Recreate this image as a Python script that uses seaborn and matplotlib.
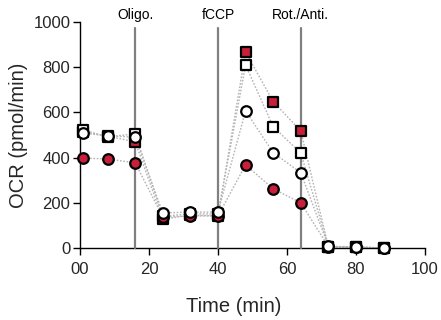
import matplotlib
matplotlib.use("Agg")
import matplotlib.pyplot as plt
import seaborn as sns
import pandas as pd

time = [1, 8, 16, 24, 32, 40, 48, 56, 64, 72, 80, 88]
red_sq = [515, 495, 470, 128, 145, 142, 867, 648, 518, 5, 4, 0]
white_sq = [522, 492, 505, 140, 152, 150, 810, 537, 420, 6, 4, 0]
red_ci = [398, 394, 377, 137, 142, 142, 368, 262, 200, 6, 4, 0]
white_ci = [509, 496, 491, 155, 159, 159, 607, 422, 333, 8, 5, 0]

injections = [16, 40, 64]
inj_labels = ["Oligo.", "fCCP", "Rot./Anti."]
xticks = [0, 20, 40, 60, 80, 100]
xtick_labels = ["00", "20", "40", "60", "80", "100"]
yticks = [0, 200, 400, 600, 800, 1000]

RED = "#C8203A"

sns.set_theme(style="ticks")
plt.rcParams["font.family"] = ["Liberation Sans", "DejaVu Sans"]

fig = plt.figure(figsize=(4.41, 3.20), dpi=100)
ax = fig.add_axes([0.1814, 0.225, 0.7823, 0.706])

series = [
    (red_sq, "s", RED),
    (white_sq, "s", "white"),
    (red_ci, "o", RED),
    (white_ci, "o", "white"),
]

for vals, _, _ in series:
    df = pd.DataFrame({"t": time, "v": vals})
    sns.lineplot(data=df, x="t", y="v", ax=ax, color="#b4b4b4",
                 linestyle=(0, (1.2, 1.2)), linewidth=1.0, zorder=2)

for x, lab in zip(injections, inj_labels):
    ax.plot([x, x], [0, 973], color="#808080", linewidth=1.6, zorder=3,
            clip_on=False)
    ax.text(x, 1000, lab, ha="center", va="bottom", fontsize=10,
            color="black")

z = 4
for vals, mk, col in series:
    df = pd.DataFrame({"t": time, "v": vals})
    sns.scatterplot(data=df, x="t", y="v", ax=ax, marker=mk, color=col,
                    edgecolor="black", linewidth=1.6, s=58, zorder=z,
                    clip_on=False)
    z += 1

ax.set_xlim(0, 100)
ax.set_ylim(0, 1000)
ax.set_xticks(xticks)
ax.set_xticklabels(xtick_labels)
ax.set_yticks(yticks)
ax.tick_params(axis="both", labelsize=12, length=5, width=1.0, color="black")
ax.tick_params(axis="x", pad=5)
ax.tick_params(axis="y", pad=2)
ax.set_xlabel("Time (min)", fontsize=14.5)
ax.set_ylabel("OCR (pmol/min)", fontsize=14.5)
ax.xaxis.set_label_coords(0.445, -0.215)
ax.yaxis.set_label_coords(-0.15, 0.5)
for s in ["left", "bottom"]:
    ax.spines[s].set_linewidth(1.0)
    ax.spines[s].set_color("black")
sns.despine(ax=ax)

fig.savefig("out.png", dpi=100)
